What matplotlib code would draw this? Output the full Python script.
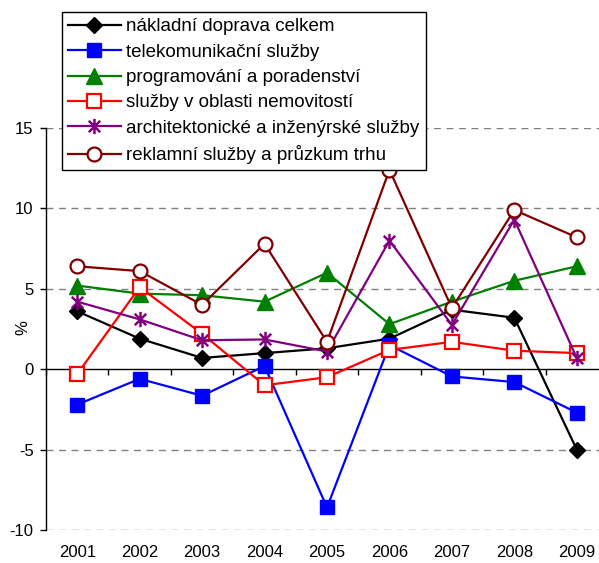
import numpy as np
import matplotlib.pyplot as plt
from matplotlib.path import Path

plt.rcParams['font.family'] = ['Liberation Sans', 'DejaVu Sans']
plt.rcParams['axes.unicode_minus'] = False

years = ['2001', '2002', '2003', '2004', '2005', '2006', '2007', '2008', '2009']

doprava = [3.6, 1.9, 0.7, 1.0, 1.3, 1.9, 3.7, 3.2, -5.0]
telekom = [-2.2, -0.6, -1.65, 0.2, -8.6, 1.5, -0.45, -0.8, -2.7]
programovani = [5.2, 4.7, 4.6, 4.2, 6.0, 2.8, 4.2, 5.5, 6.4]
nemovitosti = [-0.3, 5.1, 2.2, -1.0, -0.5, 1.2, 1.7, 1.15, 1.0]
architekt = [4.2, 3.1, 1.8, 1.85, 1.1, 8.0, 2.75, 9.3, 0.7]
reklama = [6.4, 6.1, 4.0, 7.8, 1.7, 12.4, 3.8, 9.9, 8.2]

labels = ['nákladní doprava celkem',
          'telekomunikační služby',
          'programování a poradenství',
          'služby v oblasti nemovitostí',
          'architektonické a inženýrské služby',
          'reklamní služby a průzkum trhu']

# excel-like star marker: X plus a vertical bar
d = 0.75
star = Path([(0, -1), (0, 1), (-d, -d), (d, d), (-d, d), (d, -d)],
            [Path.MOVETO, Path.LINETO] * 3)

W, H = 599, 563
fig = plt.figure(figsize=(W / 100, H / 100), dpi=100)
ax = fig.add_axes([46 / W, (H - 530) / H, (608 - 46) / W, 402 / H])

x = np.arange(len(years))
lw = 1.6

ax.plot(x, doprava, color='black', lw=lw, marker='D', ms=8, label=labels[0])
ax.plot(x, telekom, color='#0000ff', lw=lw, marker='s', ms=10, label=labels[1])
ax.plot(x, programovani, color='#008000', lw=lw, marker='^', ms=11, label=labels[2])
ax.plot(x, nemovitosti, color='#ff0000', lw=lw, marker='s', ms=10.5, mfc='white',
        mew=1.6, label=labels[3])
ax.plot(x, architekt, color='#800080', lw=lw, marker=star, ms=11, mew=1.8,
        label=labels[4])
ax.plot(x, reklama, color='#800000', lw=lw, marker='o', ms=10, mfc='white',
        mew=1.6, label=labels[5])

ax.set_xlim(-0.5, 8.5)
ax.set_ylim(-10, 15)

# gridlines (dashed), 0 is the category axis
for g in [-10, -5, 5, 10, 15]:
    ax.axhline(g, color='#808080', lw=1, ls=(0, (5, 4)), zorder=0)

for s in ['top', 'right', 'bottom']:
    ax.spines[s].set_visible(False)
ax.spines['left'].set_linewidth(1)

ax.set_yticks([-10, -5, 0, 5, 10, 15])
ax.tick_params(axis='y', direction='out', length=4, width=1, labelsize=12, pad=5)
ax.set_xticks(x)
ax.set_xticklabels(years)
ax.tick_params(axis='x', length=0, labelsize=12, pad=11)
fig.text(23 / W, 1 - 328 / H, '%', fontsize=12, rotation=90, ha='center', va='center')

# zero line with tick marks between the years
sec = ax.secondary_xaxis(10 / 25)
sec.set_xticks(np.arange(-0.5, 9, 1))
sec.set_xticklabels([])
sec.tick_params(direction='out', length=4, width=1)
sec.spines['bottom'].set_linewidth(1)

leg = fig.legend(loc='upper left', bbox_to_anchor=(62 / W, 1 - 12 / H),
                 fontsize=13.5, frameon=True, fancybox=False, framealpha=1,
                 edgecolor='black', handlelength=2.8, handletextpad=0.3,
                 labelspacing=0.44, borderpad=0.33, borderaxespad=0)
leg.get_frame().set_linewidth(1)

fig.savefig('out.png', dpi=100)
